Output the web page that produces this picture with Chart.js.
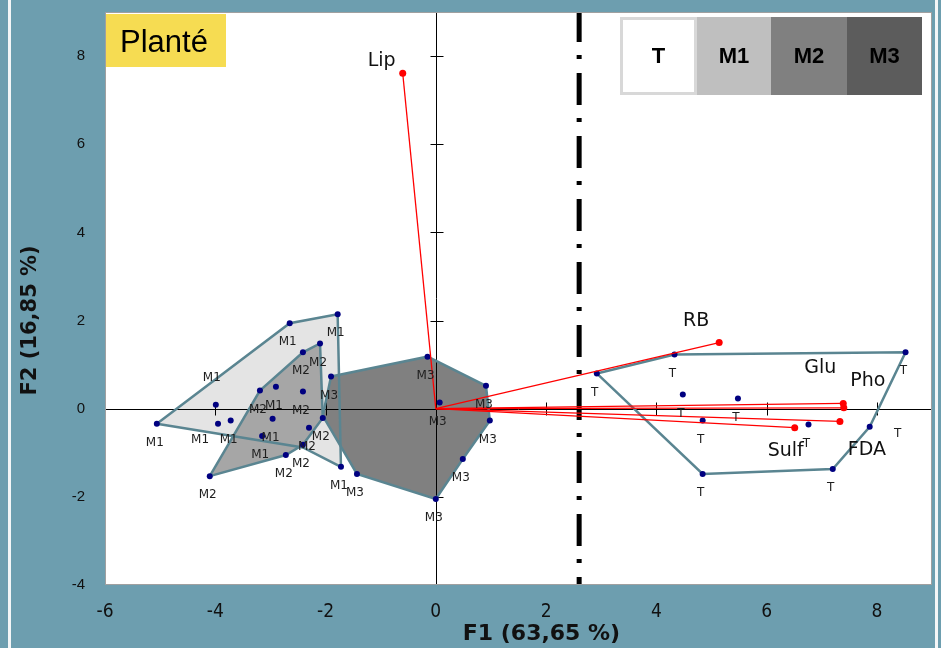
<!DOCTYPE html>
<html>
<head>
<meta charset="utf-8">
<title>ACP Planté</title>
<script src="https://cdn.jsdelivr.net/npm/chart.js@4.4.0/dist/chart.umd.min.js"></script>
<style>
  html, body { margin: 0; padding: 0; background: #6d9eaf; }
  #wrap { position: relative; width: 941px; height: 648px; overflow: hidden; }
  .stripe { position: absolute; top: 0; bottom: 0; width: 3px; background: #f4f6f7; }
  #pca { position: absolute; left: 0; top: 0; }
</style>
</head>
<body>
<div id="wrap">
  <div class="stripe" style="left:8px"></div>
  <div class="stripe" style="left:935px"></div>
  <canvas id="pca" width="941" height="648"></canvas>
</div>
<script>
// Observation scores on F1 / F2, one pair of arrays per group
const groups = ['T', 'M1', 'M2', 'M3'];

const tX = [2.92, 4.33, 8.52, 7.87, 7.20, 4.84, 4.48, 5.48, 4.84, 6.76];
const tY = [0.80, 1.23, 1.28, -0.41, -1.37, -1.48, 0.32, 0.23, -0.27, -0.36];

const m1X = [-5.06, -3.99, -3.95, -3.72, -2.90, -2.96, -3.15, -2.65, -1.78, -1.72];
const m1Y = [-0.34, 0.09, -0.34, -0.27, 0.50, -0.23, -0.62, 1.94, 2.14, -1.32];

const m2X = [-4.10, -3.19, -2.41, -2.41, -2.10, -2.05, -2.30, -2.41, -2.72];
const m2Y = [-1.53, 0.41, 0.39, 1.28, 1.48, -0.21, -0.43, -0.82, -1.05];

const m3X = [-1.90, -0.15, 0.07, 0.91, 0.98, 0.49, 0.00, -1.43];
const m3Y = [0.73, 1.18, 0.14, 0.52, -0.27, -1.14, -2.05, -1.48];

// Envelopes drawn around each group
const tHullX = [2.92, 4.33, 8.52, 7.87, 7.20, 4.84];
const tHullY = [0.80, 1.23, 1.28, -0.41, -1.37, -1.48];
const m1HullX = [-5.06, -2.65, -1.78, -1.72, -2.41];
const m1HullY = [-0.34, 1.94, 2.14, -1.32, -0.88];
const m2HullX = [-4.10, -2.72, -2.41, -2.05, -2.10, -2.41, -3.19];
const m2HullY = [-1.53, -1.05, -0.82, -0.21, 1.48, 1.28, 0.41];
const m3HullX = [-1.90, -0.15, 0.91, 0.98, 0.49, 0.00, -1.43, -2.05];
const m3HullY = [0.73, 1.18, 0.52, -0.27, -1.14, -2.05, -1.48, -0.16];

// Variables (loadings)
const varNames = ['Lip', 'RB', 'Glu', 'Pho', 'FDA', 'Sulf'];
const varF1 = [-0.60, 5.14, 7.39, 7.40, 7.33, 6.51];
const varF2 = [7.61, 1.50, 0.12, 0.02, -0.29, -0.43];

// separation line between T and the M groups
const cutF1 = 2.6;

// styling
const groupFill = { T: '#ffffff', M1: '#e4e4e4', M2: '#a6a6a6', M3: '#808080' };
const legendFill = { T: '#ffffff', M1: '#bfbfbf', M2: '#808080', M3: '#5c5c5c' };
const hullLine = '#5a8591';
const dotColor = '#000080';
const varColor = '#ff0000';

// pixel offsets for a few labels that are not placed under their point
const labelNudge = { 'M1-1': [-4, -27], 'M1-2': [-18, 16], 'T-3': [28, 7] };
const varLabelOffset = [[-21, -12], [-23, -22], [-23, -35], [24, -27], [27, 29], [-9, 23]];

function pts(xs, ys) {
  return xs.map((x, i) => ({ x: x, y: ys[i] }));
}
function closed(xs, ys) {
  const p = pts(xs, ys);
  p.push(p[0]);
  return p;
}

const groupPoints = { T: [tX, tY], M1: [m1X, m1Y], M2: [m2X, m2Y], M3: [m3X, m3Y] };
const groupHull = { T: [tHullX, tHullY], M1: [m1HullX, m1HullY], M2: [m2HullX, m2HullY], M3: [m3HullX, m3HullY] };
const hullOrder = { M1: 4, M2: 3, M3: 2, T: 1 };

const datasets = [];

groups.forEach(g => {
  datasets.push({
    type: 'line',
    label: 'hull ' + g,
    data: closed(groupHull[g][0], groupHull[g][1]),
    borderColor: hullLine,
    borderWidth: 2.5,
    backgroundColor: groupFill[g],
    fill: g === 'T' ? false : 'shape',
    pointRadius: 0,
    tension: 0,
    order: hullOrder[g]
  });
});

varNames.forEach((name, i) => {
  datasets.push({
    type: 'line',
    label: name,
    data: [{ x: 0, y: 0 }, { x: varF1[i], y: varF2[i] }],
    borderColor: varColor,
    borderWidth: 1.3,
    pointRadius: [0, 3.5],
    pointBackgroundColor: varColor,
    pointBorderWidth: 0,
    fill: false,
    order: 0
  });
});

const pointSetIndex = {};
groups.forEach(g => {
  pointSetIndex[g] = datasets.length;
  datasets.push({
    type: 'scatter',
    label: g,
    data: pts(groupPoints[g][0], groupPoints[g][1]),
    pointRadius: 3,
    pointBackgroundColor: dotColor,
    pointBorderWidth: 0,
    order: 0
  });
});

const overlay = {
  id: 'overlay',
  beforeDraw(chart) {
    const a = chart.chartArea;
    const ctx = chart.ctx;
    ctx.save();
    ctx.fillStyle = '#ffffff';
    ctx.fillRect(a.left, a.top, a.right - a.left, a.bottom - a.top);
    ctx.restore();
  },
  beforeDatasetsDraw(chart) {
    const a = chart.chartArea;
    const ctx = chart.ctx;
    const sx = chart.scales.x, sy = chart.scales.y;
    const x0 = Math.round(sx.getPixelForValue(0)) + 0.5;
    const y0 = Math.round(sy.getPixelForValue(0)) + 0.5;
    ctx.save();
    ctx.strokeStyle = '#000';
    ctx.lineWidth = 1;
    ctx.beginPath();
    ctx.moveTo(a.left, y0); ctx.lineTo(a.right, y0);
    ctx.moveTo(x0, a.top); ctx.lineTo(x0, a.bottom);
    sx.ticks.forEach(t => {
      const px = Math.round(sx.getPixelForValue(t.value)) + 0.5;
      ctx.moveTo(px, y0 - 7); ctx.lineTo(px, y0 + 6);
    });
    sy.ticks.forEach(t => {
      const py = Math.min(Math.round(sy.getPixelForValue(t.value)) + 0.5, a.bottom - 0.5);
      ctx.moveTo(x0 - 6, py); ctx.lineTo(x0 + 7, py);
    });
    ctx.stroke();

    // dash-dot separation line
    const cx = sx.getPixelForValue(cutF1);
    ctx.lineWidth = 5;
    ctx.setLineDash([32, 13, 4, 14]);
    ctx.lineDashOffset = 2;
    ctx.beginPath();
    ctx.moveTo(cx, a.top);
    ctx.lineTo(cx, a.bottom);
    ctx.stroke();
    ctx.restore();
  },
  afterDatasetsDraw(chart) {
    const a = chart.chartArea;
    const ctx = chart.ctx;
    ctx.save();

    // observation labels
    ctx.font = '12px "DejaVu Sans", sans-serif';
    ctx.fillStyle = '#1e1e1e';
    ctx.textAlign = 'center';
    ctx.textBaseline = 'middle';
    groups.forEach(g => {
      const meta = chart.getDatasetMeta(pointSetIndex[g]);
      meta.data.forEach((el, j) => {
        const n = labelNudge[g + '-' + j] || [-2, 19];
        ctx.fillText(g, el.x + n[0], el.y + n[1]);
      });
    });

    // variable labels
    ctx.font = '19px "DejaVu Sans", sans-serif';
    ctx.fillStyle = '#111';
    varNames.forEach((name, i) => {
      const meta = chart.getDatasetMeta(groups.length + i);
      const el = meta.data[1];
      const o = varLabelOffset[i];
      ctx.fillText(name, el.x + o[0], el.y + o[1]);
    });

    // plot border
    ctx.strokeStyle = '#a0a0a0';
    ctx.lineWidth = 1;
    ctx.strokeRect(a.left + 0.5, a.top + 0.5, a.right - a.left - 1, a.bottom - a.top - 1);

    // "Planté" tag
    ctx.fillStyle = '#f6dc52';
    ctx.fillRect(a.left + 1, a.top + 2, 120, 53);
    ctx.fillStyle = '#000';
    ctx.textAlign = 'left';
    ctx.textBaseline = 'alphabetic';
    ctx.font = '31px "Liberation Sans", Arial, sans-serif';
    ctx.fillText('Planté', a.left + 15, a.top + 40);

    // group legend
    const lx = 620, ly = 17, lh = 78;
    const widths = [77, 74, 76, 75];
    let x = lx;
    ctx.font = 'bold 22px "Liberation Sans", Arial, sans-serif';
    ctx.textAlign = 'center';
    ctx.textBaseline = 'middle';
    groups.forEach((g, i) => {
      ctx.fillStyle = legendFill[g];
      ctx.fillRect(x, ly, widths[i], lh);
      if (g === 'T') {
        ctx.strokeStyle = '#d8d8d8';
        ctx.lineWidth = 3;
        ctx.strokeRect(x + 1.5, ly + 1.5, widths[i] - 3, lh - 3);
      }
      ctx.fillStyle = '#000';
      ctx.fillText(g, x + widths[i] / 2, ly + lh / 2 + 1);
      x += widths[i];
    });
    ctx.restore();
  }
};

new Chart(document.getElementById('pca'), {
  type: 'scatter',
  data: { datasets: datasets },
  options: {
    responsive: false,
    animation: false,
    devicePixelRatio: 1,
    layout: { padding: { top: 12, right: 9, bottom: 0, left: 0 } },
    plugins: {
      legend: { display: false },
      tooltip: { enabled: false },
      filler: { drawTime: 'beforeDatasetsDraw' }
    },
    scales: {
      x: {
        type: 'linear',
        position: 'bottom',
        min: -6,
        max: 9,
        grid: { display: false, drawTicks: false },
        border: { display: false },
        ticks: {
          stepSize: 2,
          includeBounds: false,
          padding: 16,
          color: '#111',
          font: { family: '"Liberation Sans Narrow", "DejaVu Sans Condensed", sans-serif', size: 19 }
        },
        title: {
          display: true,
          text: '      F1 (63,65 %)',
          color: '#111',
          padding: { top: 0, bottom: 1 },
          font: { family: '"DejaVu Sans", sans-serif', size: 22, weight: 'bold' }
        },
        afterFit(scale) {
          scale.height = 63;
          scale.paddingLeft = 0;
          scale.paddingRight = 0;
        }
      },
      y: {
        type: 'linear',
        min: -4,
        max: 9,
        grid: { display: false, drawTicks: false },
        border: { display: false },
        ticks: {
          stepSize: 2,
          includeBounds: false,
          padding: 20,
          color: '#111',
          font: { family: '"Liberation Sans", Arial, sans-serif', size: 15 }
        },
        title: {
          display: true,
          text: 'F2 (16,85 %)      ',
          color: '#111',
          padding: { top: 18, bottom: 0 },
          font: { family: '"DejaVu Sans", sans-serif', size: 21, weight: 'bold' }
        },
        afterFit(scale) {
          scale.width = 105;
          scale.paddingTop = 0;
          scale.paddingBottom = 0;
        }
      }
    }
  },
  plugins: [overlay]
});
</script>
</body>
</html>
